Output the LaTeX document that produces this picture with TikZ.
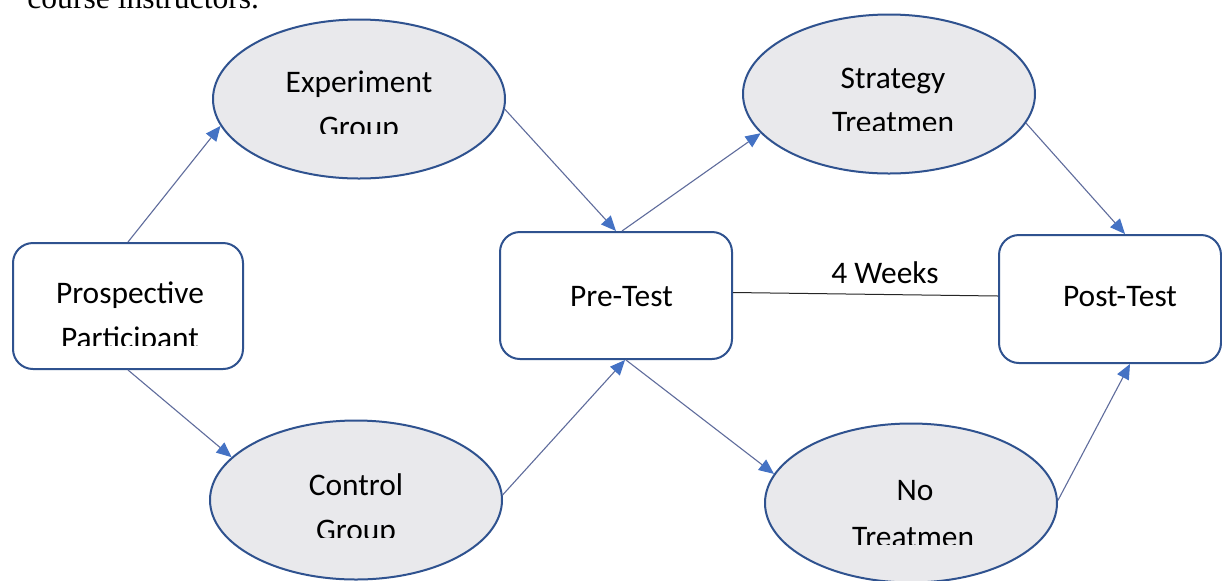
\documentclass[tikz,border=0pt]{standalone}
\usepackage{fontspec}
\setmainfont{Carlito}
\newfontfamily\bodyserif{Liberation Serif}
\usetikzlibrary{arrows.meta,calc,shapes.geometric}
\definecolor{shapeborder}{HTML}{2F528F}
\definecolor{shapefill}{HTML}{E9E9EC}
\definecolor{linkline}{HTML}{5F6C9C}
\definecolor{tipblue}{HTML}{4472C4}
\tikzset{
  oval/.style={ellipse, draw=shapeborder, fill=shapefill, line width=1pt, inner sep=0pt,
    minimum width=146pt, minimum height=79.5pt},
  rbox/.style={rectangle, rounded corners=10pt, draw=shapeborder, fill=white, line width=1pt, inner sep=0pt},
  lbl/.style={anchor=base, inner sep=0pt, font=\fontsize{15.7}{18}\selectfont},
  link/.style={draw=linkline, line width=0.55pt, -{Triangle[length=7.5pt,width=6.5pt,color=tipblue]}},
  plainlink/.style={draw=black!85, line width=0.5pt}
}
\begin{document}
\begin{tikzpicture}[x=0.5pt,y=-0.5pt]
\useasboundingbox (0,0) rectangle (1222,580);
\fill[white] (0,0) rectangle (1222,580);
% cut-off text line at the top
\node[anchor=base west, inner sep=0pt, font=\bodyserif\fontsize{15.8}{18}\selectfont] (top) at (27,8) {course instructors.};
% shapes
\node[oval] (eg) at (359,99) {};
\node[oval] (st) at (889,94) {};
\node[oval] (cg) at (356,500) {};
\node[oval] (nt) at (911,503) {};
\node[rbox, minimum width=115pt, minimum height=63pt] (pp) at (128,306) {};
\node[rbox, minimum width=116pt, minimum height=63.5pt] (pt) at (616,295.5) {};
\node[rbox, minimum width=111pt, minimum height=64pt] (po) at (1110,299) {};
% labels
\node[lbl] (egA) at (359,92) {Experiment};
\begin{scope}\clip (200,100) rectangle (520,133);
\node[lbl] (egB) at (359,137) {Group};
\end{scope}
\node[lbl] (stA) at (893,88) {Strategy};
\begin{scope}\clip (740,95) rectangle (1040,130);
\node[lbl] (stB) at (893,132) {Treatmen};
\end{scope}
\node[lbl] (cgA) at (356,495) {Control};
\begin{scope}\clip (200,500) rectangle (520,537);
\node[lbl] (cgB) at (356,540) {Group};
\end{scope}
\node[lbl] (ntA) at (915,500) {No};
\begin{scope}\clip (760,505) rectangle (1060,544);
\node[lbl] (ntB) at (913,547) {Treatmen};
\end{scope}
\node[lbl] (ppA) at (130,303) {Prospective};
\begin{scope}\clip (15,310) rectangle (240,345);
\node[lbl] (ppB) at (130,348) {Participant};
\end{scope}
\node[lbl] (ptA) at (621.5,306) {Pre-Test};
\node[lbl] (poA) at (1120,306) {Post-Test};
% connectors
\draw[link] (pp.north) -- (eg.191);
\draw[link] (pp.south) -- (cg.161);
\draw[link] (eg.-4) -- (pt.north);
\draw[link] (cg.2) -- ($(pt.south)+(9,0)$);
\draw[link] ($(pt.north)+(6,0)$) -- (st.197);
\draw[link] ($(pt.south)+(10,0)$) -- (nt.168);
\draw[link] (st.-12) -- ($(po.north)+(15,0)$);
\draw[link] (nt.1) -- ($(po.south)+(20,0)$);
\draw[plainlink] ($(pt.east)+(0,-3)$) -- ($(po.west)+(0,-3)$);
\node[lbl] (wk) at (885,283) {4 Weeks};
\end{tikzpicture}
\end{document}
